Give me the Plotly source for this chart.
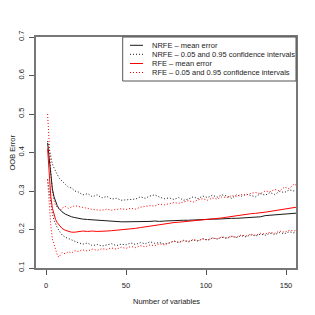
import plotly.graph_objects as go

n_vars = [1, 2, 3, 4, 5, 6, 7, 8, 9, 10, 12, 14, 16, 18, 20, 23, 26, 29, 32, 35, 38, 41, 44, 47,
          50, 53, 56, 59, 62, 65, 68, 71, 74, 77, 80, 83, 86, 89, 92, 95, 98, 101, 104, 107,
          110, 113, 116, 119, 122, 125, 128, 131, 134, 137, 140, 143, 146, 149, 152, 155, 158]

nrfe_mean = [0.425, 0.38, 0.335, 0.305, 0.285, 0.272, 0.262, 0.255, 0.25, 0.246, 0.240, 0.236,
             0.233, 0.231, 0.229, 0.227, 0.226, 0.225, 0.224, 0.223, 0.222, 0.221, 0.221, 0.220,
             0.220, 0.220, 0.221, 0.220, 0.221, 0.221, 0.222, 0.221, 0.222, 0.223, 0.223, 0.224,
             0.224, 0.224, 0.225, 0.225, 0.226, 0.226, 0.227, 0.227, 0.228, 0.228, 0.229, 0.229,
             0.230, 0.231, 0.231, 0.232, 0.233, 0.236, 0.237, 0.237, 0.238, 0.239, 0.240, 0.242,
             0.243]

nrfe_upper = [0.43, 0.41, 0.39, 0.37, 0.36, 0.35, 0.345, 0.335, 0.33, 0.325, 0.318, 0.31,
              0.308, 0.30, 0.298, 0.29, 0.293, 0.285, 0.29, 0.282, 0.286, 0.279, 0.281, 0.276,
              0.277, 0.277, 0.279, 0.285, 0.281, 0.287, 0.29, 0.284, 0.28, 0.282, 0.278, 0.283,
              0.276, 0.279, 0.285, 0.28, 0.287, 0.283, 0.289, 0.284, 0.29, 0.287, 0.281, 0.29,
              0.286, 0.292, 0.288, 0.285, 0.293, 0.289, 0.296, 0.291, 0.299, 0.296, 0.303, 0.30,
              0.305]

nrfe_lower = [0.33, 0.30, 0.265, 0.24, 0.225, 0.212, 0.205, 0.198, 0.19, 0.186, 0.18, 0.176,
              0.172, 0.168, 0.166, 0.162, 0.165, 0.158, 0.161, 0.157, 0.16, 0.163, 0.158, 0.162,
              0.16, 0.165, 0.161, 0.166, 0.163, 0.168, 0.164, 0.166, 0.162, 0.165, 0.17, 0.166,
              0.171, 0.168, 0.173, 0.17, 0.176, 0.172, 0.178, 0.175, 0.18, 0.177, 0.182, 0.179,
              0.184, 0.181, 0.186, 0.183, 0.188, 0.185, 0.19, 0.187, 0.192, 0.189, 0.194, 0.191,
              0.195]

rfe_mean = [0.41, 0.33, 0.285, 0.255, 0.238, 0.226, 0.218, 0.212, 0.207, 0.203, 0.198, 0.195,
            0.193, 0.193, 0.194, 0.196, 0.195, 0.196, 0.195, 0.195, 0.196, 0.197, 0.198, 0.198,
            0.200, 0.201, 0.203, 0.205, 0.207, 0.209, 0.211, 0.213, 0.215, 0.217, 0.218, 0.219,
            0.220, 0.221, 0.223, 0.224, 0.225, 0.227, 0.228, 0.229, 0.230, 0.232, 0.234, 0.236,
            0.238, 0.240, 0.241, 0.242, 0.243, 0.245, 0.247, 0.249, 0.251, 0.253, 0.255, 0.257,
            0.259]

rfe_upper = [0.50, 0.42, 0.35, 0.30, 0.275, 0.262, 0.258, 0.256, 0.25, 0.255, 0.26, 0.255,
             0.258, 0.262, 0.26, 0.258, 0.255, 0.252, 0.251, 0.25, 0.253, 0.25, 0.252, 0.254,
             0.252, 0.255, 0.253, 0.258, 0.26, 0.262, 0.261, 0.266, 0.264, 0.268, 0.27, 0.268,
             0.272, 0.275, 0.271, 0.277, 0.28, 0.276, 0.282, 0.279, 0.285, 0.283, 0.288, 0.286,
             0.291, 0.289, 0.294, 0.296, 0.293, 0.30, 0.298, 0.304, 0.30, 0.31, 0.306, 0.318,
             0.312]

rfe_lower = [0.33, 0.26, 0.21, 0.175, 0.16, 0.145, 0.135, 0.128, 0.133, 0.14, 0.137, 0.142,
             0.139, 0.145, 0.143, 0.147, 0.144, 0.149, 0.146, 0.15, 0.148, 0.152, 0.149, 0.154,
             0.151, 0.156, 0.153, 0.158, 0.155, 0.16, 0.158, 0.163, 0.16, 0.166, 0.17, 0.167,
             0.172, 0.169, 0.174, 0.171, 0.176, 0.173, 0.178, 0.176, 0.181, 0.178, 0.183, 0.18,
             0.186, 0.183, 0.188, 0.185, 0.19, 0.188, 0.193, 0.19, 0.196, 0.193, 0.198, 0.196,
             0.20]

x_ticks = [0, 50, 100, 150]
y_ticks = [0.1, 0.2, 0.3, 0.4, 0.5, 0.6, 0.7]
legend_labels = ["NRFE \u2013 mean error",
                 "NRFE \u2013 0.05 and 0.95 confidence intervals",
                 "RFE \u2013 mean error",
                 "RFE \u2013 0.05 and 0.95 confidence intervals"]

BLACK = "#1a1a1a"
RED = "#ff0000"
FONT = "Liberation Sans, Arial, sans-serif"
FS = 7.5
DOT = "1px,2px"

fig = go.Figure()
series = [
    (nrfe_upper, BLACK, DOT), (nrfe_lower, BLACK, DOT),
    (rfe_upper, RED, DOT), (rfe_lower, RED, DOT),
    (nrfe_mean, BLACK, "solid"), (rfe_mean, RED, "solid"),
]
for ys, col, dash in series:
    fig.add_trace(go.Scatter(x=n_vars, y=ys, mode="lines",
                             line=dict(color=col, width=1, dash=dash),
                             showlegend=False, hoverinfo="skip"))

axis_common = dict(showgrid=False, zeroline=False, showline=True, mirror=True,
                   linecolor="#777777", linewidth=1.5, ticks="outside", ticklen=5,
                   tickcolor="#555555", tickwidth=1, automargin=False,
                   tickfont=dict(family=FONT, size=FS, color="#222222"))

fig.update_xaxes(range=[-6.25, 156.25], tickvals=x_ticks, ticklabelstandoff=4, **axis_common)
fig.update_yaxes(range=[0.1, 0.7], tickvals=y_ticks, tickangle=-90, ticklabelstandoff=2,
                 **axis_common)

# screen-pixel geometry of the plot box (page body adds an 8px offset)
OFF = 8
L, R_, T, B = 36, 296, 37, 268
def px(x):
    return (x - L) / (R_ - L)
def py(y):
    return (B - y) / (B - T)

shapes = [dict(type="rect", xref="paper", yref="paper", x0=px(122.7), x1=1.0,
               y0=py(81), y1=1.0, line=dict(color="#555555", width=1), fillcolor="white",
               layer="above")]
annotations = []
rows = [45.3, 54.3, 63.5, 72.5]
styles = [(BLACK, "solid"), (BLACK, DOT), (RED, "solid"), (RED, DOT)]
for yy, (col, dash), lab in zip(rows, styles, legend_labels):
    shapes.append(dict(type="line", xref="paper", yref="paper", x0=px(130), x1=px(143),
                       y0=py(yy), y1=py(yy), line=dict(color=col, width=1, dash=dash),
                       layer="above"))
    annotations.append(dict(x=px(150), y=py(yy), xref="paper", yref="paper", text=lab,
                            showarrow=False, xanchor="left", yanchor="middle",
                            font=dict(family=FONT, size=FS, color="#222222")))

annotations.append(dict(x=px(12), y=0.5, xref="paper", yref="paper", text="OOB Error",
                        showarrow=False, textangle=-90, xanchor="center", yanchor="middle",
                        font=dict(family=FONT, size=FS, color="#222222")))
annotations.append(dict(x=0.5, y=py(301), xref="paper", yref="paper",
                        text="Number of variables", showarrow=False, xanchor="center",
                        yanchor="middle", font=dict(family=FONT, size=FS, color="#222222")))

fig.update_layout(width=315, height=315,
                  margin=dict(l=L - OFF, r=315 - R_ + OFF, t=T - OFF, b=315 - B + OFF),
                  paper_bgcolor="white", plot_bgcolor="white", showlegend=False,
                  shapes=shapes, annotations=annotations)

fig.write_html("out.html")
